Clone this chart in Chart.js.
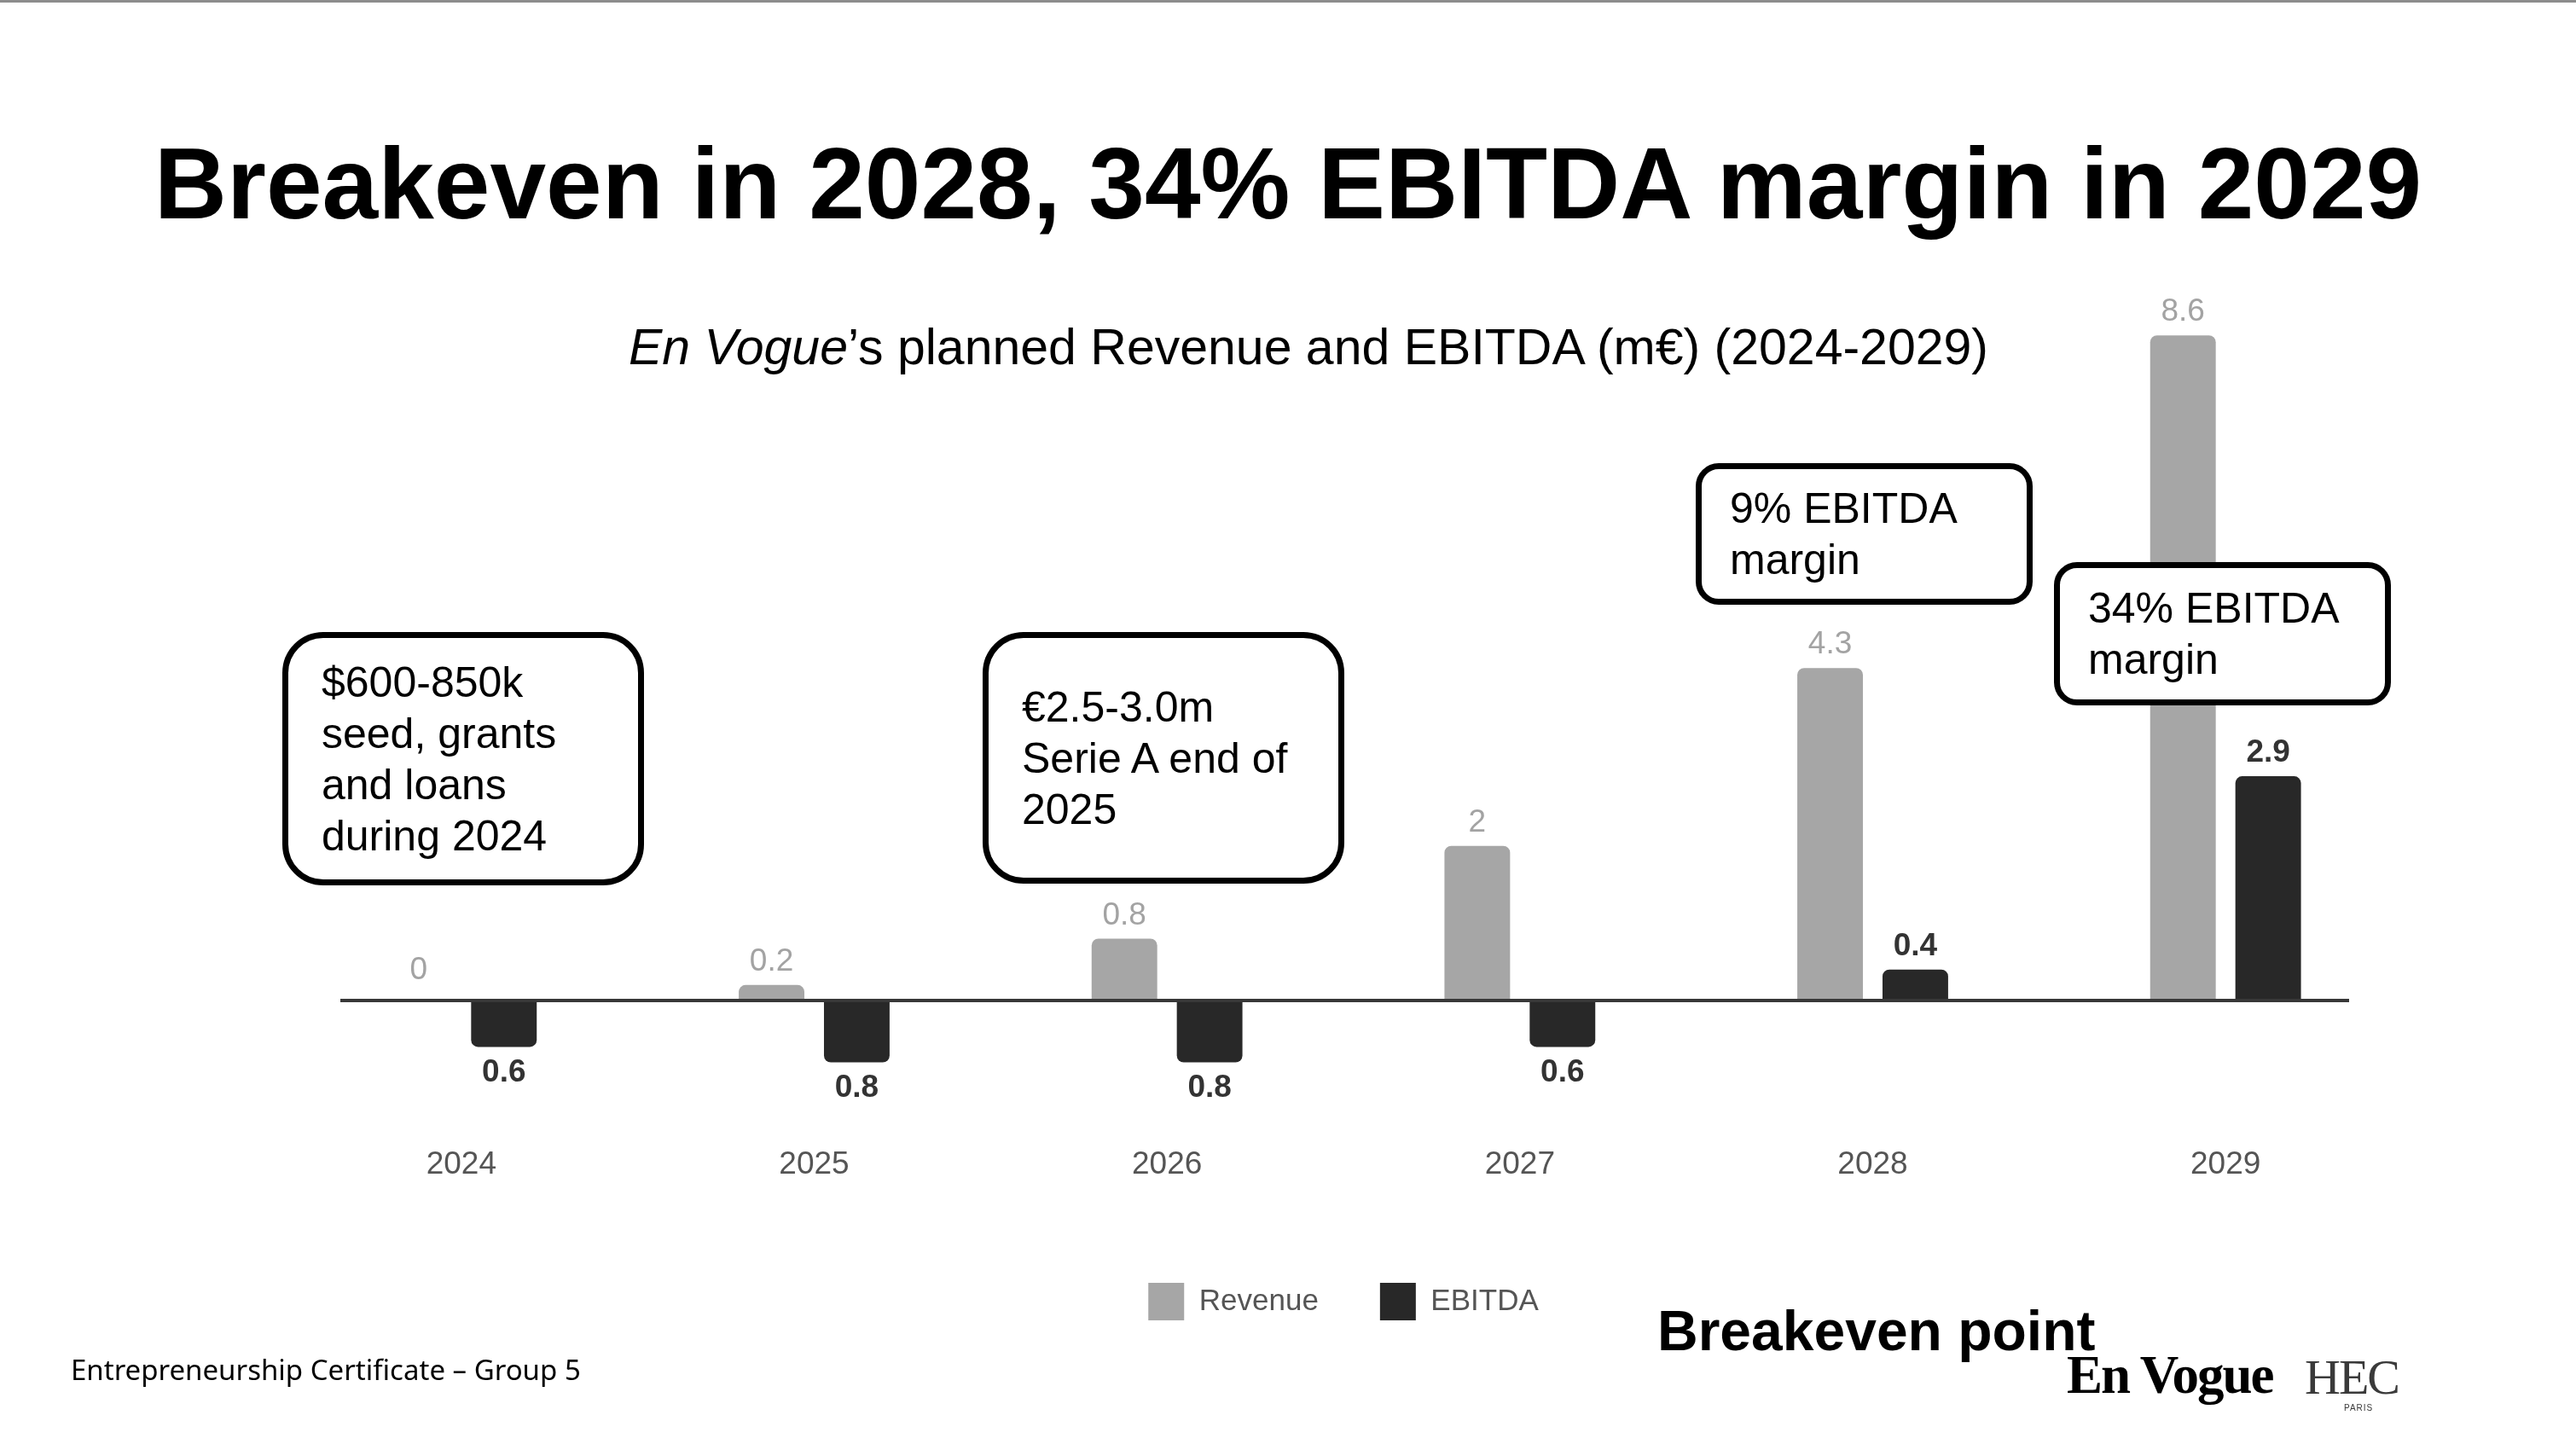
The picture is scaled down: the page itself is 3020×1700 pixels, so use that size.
<!DOCTYPE html>
<html lang="en">
<head>
<meta charset="UTF-8">
<title>Breakeven in 2028, 34% EBITDA margin in 2029</title>
<script src="https://cdn.jsdelivr.net/npm/chart.js"></script>
<style>
  body {
    margin: 0;
    width: 3020px;
    height: 1700px;
    position: relative;
    overflow: hidden;
    background: #fff;
    font-family: "Liberation Sans", Arial, sans-serif;
    color: #000;
  }
  .topline { position: absolute; left: 0; top: 0; width: 3020px; height: 3px; background: #8c8c8c; }
  .chart-wrap { position: absolute; left: 0; top: 0; width: 3020px; height: 1700px; }
  h1 {
    position: absolute; left: 0; top: 156px; width: 3020px; margin: 0;
    text-align: center; font-size: 118px; line-height: 1; font-weight: bold;
  }
  .subtitle {
    position: absolute; left: 737px; top: 378px; margin: 0;
    font-size: 59px; line-height: 1; white-space: nowrap;
  }
  .note {
    position: absolute; box-sizing: border-box; background: #fff;
    border: 7px solid #000; display: flex; flex-direction: column; justify-content: center;
    font-size: 50px; line-height: 60px; z-index: 2;
  }
  .big { border-radius: 48px; padding-left: 39px; }
  .small { border-radius: 27px; padding-left: 33px; }
  .breakeven {
    position: absolute; left: 1943px; top: 1527px; font-size: 66px; font-weight: bold; line-height: 1;
  }
  .footer {
    position: absolute; left: 83px; top: 1589px; font-size: 33px; line-height: 1;
    font-family: "Noto Sans", sans-serif; white-space: nowrap;
  }
  .logo {
    position: absolute; left: 2423px; top: 1581px; font-size: 63px; line-height: 1;
    font-family: "Liberation Serif", "DejaVu Serif", serif; font-weight: bold; letter-spacing: -2px;
  }
  .hec {
    position: absolute; left: 2702px; top: 1586px; font-size: 58px; line-height: 1;
    font-family: "Liberation Serif", serif; color: #3a3a3a; letter-spacing: -2px;
  }
  .hec small { position: absolute; left: 46px; top: 60px; font-size: 10px; font-family: "Liberation Sans", sans-serif; letter-spacing: 1px; }
</style>
</head>
<body>
<div class="topline"></div>
<h1>Breakeven in 2028, 34% EBITDA margin in 2029</h1>
<div class="subtitle"><i>En Vogue</i>’s planned Revenue and EBITDA (m€) (2024-2029)</div>

<div class="chart-wrap"><canvas id="chart"></canvas></div>

<div class="note big" style="left:331px; top:741px; width:424px; height:297px;">
  <div>$600-850k</div><div>seed, grants</div><div>and loans</div><div>during 2024</div>
</div>
<div class="note big" style="left:1152px; top:741px; width:424px; height:295px;">
  <div>€2.5-3.0m</div><div>Serie A end of</div><div>2025</div>
</div>
<div class="note small" style="left:1988px; top:543px; width:395px; height:166px;">
  <div>9% EBITDA</div><div>margin</div>
</div>
<div class="note small" style="left:2408px; top:659px; width:395px; height:168px;">
  <div>34% EBITDA</div><div>margin</div>
</div>

<div class="breakeven">Breakeven point</div>
<div class="footer">Entrepreneurship Certificate – Group 5</div>
<div class="logo">En Vogue</div>
<div class="hec">HEC<small>PARIS</small></div>

<script>
    // data (m€)
    const years = ['2024', '2025', '2026', '2027', '2028', '2029'];
    const revenue = [0, 0.2, 0.8, 2, 4.3, 8.6];
    const ebitda = [-0.6, -0.8, -0.8, -0.6, 0.4, 2.9];

    // zero line across the bars
    const zeroLine = {
        id: 'zeroLine',
        afterDatasetsDraw(chart) {
            const { ctx, chartArea } = chart;
            const y = chart.scales.y.getPixelForValue(0);
            ctx.save();
            ctx.strokeStyle = '#383838';
            ctx.lineWidth = 4;
            ctx.beginPath();
            ctx.moveTo(chartArea.left + 65, y);
            ctx.lineTo(chartArea.right - 62, y);
            ctx.stroke();
            ctx.restore();
        }
    };

    // value labels over / under each bar
    const barLabels = {
        id: 'barLabels',
        afterDatasetsDraw(chart) {
            const ctx = chart.ctx;
            chart.data.datasets.forEach((ds, i) => {
                chart.getDatasetMeta(i).data.forEach((bar, j) => {
                    const v = ds.data[j];
                    ctx.save();
                    ctx.font = (i === 1 ? 'bold ' : '') + '37px "Liberation Sans", Arial, sans-serif';
                    ctx.fillStyle = i === 1 ? '#333333' : '#a3a3a3';
                    ctx.textAlign = 'center';
                    ctx.textBaseline = 'middle';
                    let y = v >= 0 ? bar.y - 27 : bar.y + 30;
                    if (v === 0) y -= 10;
                    ctx.fillText(String(Math.abs(v)), bar.x, y);
                    ctx.restore();
                });
            });
        }
    };

    // fixed legend height so it sits where the slide has it
    const legendHeight = {
        id: 'legendHeight',
        beforeLayout(chart) {
            const lg = chart.legend;
            if (lg && !lg._fixed) {
                const fit = lg.fit;
                lg.fit = function () { fit.call(this); this.height = 150; };
                lg._fixed = true;
            }
        }
    };

    new Chart(document.getElementById('chart'), {
        type: 'bar',
        data: {
            labels: years,
            datasets: [
                {
                    label: 'Revenue',
                    data: revenue,
                    backgroundColor: '#a6a6a6',
                    borderRadius: 8,
                    minBarLength: 3
                },
                {
                    label: 'EBITDA',
                    data: ebitda,
                    backgroundColor: '#282828',
                    borderRadius: 8
                }
            ]
        },
        options: {
            responsive: true,
            maintainAspectRatio: false,
            animation: false,
            categoryPercentage: 0.483,
            barPercentage: 0.77,
            layout: { padding: { left: 334, right: 204, top: 357, bottom: 118 } },
            plugins: {
                tooltip: { enabled: false },
                legend: {
                    position: 'bottom',
                    labels: {
                        boxWidth: 42,
                        boxHeight: 44,
                        padding: 72,
                        color: '#555555',
                        font: { family: '"Liberation Sans", Arial, sans-serif', size: 35 }
                    }
                }
            },
            scales: {
                x: {
                    grid: { display: false, drawTicks: false },
                    border: { display: false },
                    ticks: {
                        padding: 35,
                        color: '#555555',
                        font: { family: '"Liberation Sans", Arial, sans-serif', size: 37 }
                    },
                    afterFit(scale) { scale.height = 123; }
                },
                y: {
                    display: false,
                    min: -1.5,
                    max: 9
                }
            }
        },
        plugins: [zeroLine, barLabels, legendHeight]
    });
</script>
</body>
</html>
